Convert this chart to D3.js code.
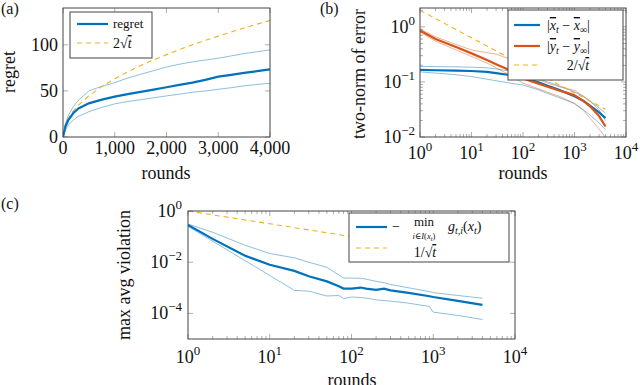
<!DOCTYPE html>
<html>
<head>
<meta charset="utf-8">
<script src="https://cdn.jsdelivr.net/npm/d3@7"></script>
<style>
  body { margin: 0; background: #fff; }
  text { font-family: "Liberation Serif", "DejaVu Serif", serif; fill: #111; }
</style>
</head>
<body>
<div id="chart"></div>
<script>
// ---- data ----
// (a) regret vs rounds
var roundsA = [0, 50, 100, 200, 300, 500, 750, 1000, 1250, 1500, 1750, 2000, 2250, 2500, 2750, 3000, 3250, 3500, 3750, 4000];
var regretMean = [0, 12, 18, 26, 31, 36.5, 40.5, 43.8, 46.5, 49, 51.5, 54, 56.5, 59, 62, 65.5, 67.5, 69.5, 71.5, 73.5];
var regretHigh = [0, 15, 23, 33, 40, 50, 55, 59, 64, 68, 72, 76, 79, 81.5, 83.5, 85.5, 88, 90.5, 92.5, 94.5];
var regretLow = [0, 8, 13, 18.5, 22.5, 27.5, 32, 36, 38.5, 40.5, 42.5, 44.6, 46.5, 48.5, 50, 51.8, 53.5, 55.5, 57, 58.3];
var bound2sqrt = [0, 14.1, 20, 28.3, 34.6, 44.7, 54.8, 63.2, 70.7, 77.5, 83.7, 89.4, 94.9, 100, 104.9, 109.5, 114, 118.3, 122.5, 126.5];

// (b) two-norm of error, log-log
var roundsB = [1, 2, 5, 10, 20, 30, 50, 70, 100, 200, 300, 500, 700, 1000, 1500, 2000, 3000, 4000];
var xErrMean = [0.165, 0.163, 0.16, 0.158, 0.152, 0.145, 0.135, 0.125, 0.118, 0.098, 0.085, 0.072, 0.063, 0.055, 0.045, 0.037, 0.028, 0.022];
var xErrHigh = [0.19, 0.19, 0.188, 0.185, 0.18, 0.172, 0.16, 0.15, 0.14, 0.115, 0.1, 0.085, 0.075, 0.066, 0.054, 0.045, 0.034, 0.027];
var xErrLow = [0.152, 0.145, 0.135, 0.125, 0.112, 0.105, 0.097, 0.092, 0.088, 0.072, 0.062, 0.052, 0.046, 0.041, 0.031, 0.025, 0.018, 0.0135];
var yErrMean = [0.86, 0.6, 0.43, 0.33, 0.25, 0.21, 0.17, 0.14, 0.115, 0.093, 0.082, 0.07, 0.064, 0.057, 0.045, 0.036, 0.024, 0.0155];
var yErrHigh = [0.92, 0.66, 0.48, 0.38, 0.34, 0.32, 0.27, 0.2, 0.15, 0.11, 0.095, 0.082, 0.076, 0.07, 0.055, 0.045, 0.031, 0.02];
var yErrLow = [0.8, 0.55, 0.38, 0.29, 0.22, 0.18, 0.14, 0.115, 0.095, 0.075, 0.065, 0.055, 0.048, 0.04, 0.03, 0.022, 0.014, 0.0098];
var bound2overSqrt = [2, 1.414, 0.894, 0.632, 0.447, 0.365, 0.283, 0.239, 0.2, 0.141, 0.115, 0.089, 0.076, 0.063, 0.052, 0.045, 0.037, 0.032];

// (c) max avg violation, log-log (values are log10)
var roundsC = [1, 2, 5, 10, 20, 30, 50, 70, 80, 100, 130, 150, 200, 250, 300, 500, 900, 1000, 2000, 4000];
var violMeanLog = [-0.55, -1.09, -1.75, -2.1, -2.34, -2.55, -2.75, -2.94, -3.03, -3.03, -2.99, -3.03, -3.08, -3.03, -3.1, -3.2, -3.33, -3.36, -3.51, -3.67];
var violHighLog = [-0.51, -0.83, -1.34, -1.66, -1.83, -2.0, -2.2, -2.5, -2.62, -2.62, -2.63, -2.66, -2.75, -2.8, -2.87, -3.0, -3.15, -3.19, -3.3, -3.41];
var violLowLog = [-0.6, -1.18, -1.94, -2.52, -3.1, -3.13, -3.32, -3.3, -3.42, -3.36, -3.38, -3.4, -3.47, -3.5, -3.52, -3.6, -3.73, -3.95, -4.08, -4.24];
var roundsC2 = [1, 2, 5, 10, 20, 50, 100];
var bound1overSqrt = [1, 0.707, 0.447, 0.316, 0.224, 0.141, 0.1];

var blue = "#0072bd", orange = "#d95319", yellow = "#edb120";
var tickSize = 18, labelSize = 18, legSize = 14;

var svg = d3.select("#chart").append("svg")
    .attr("width", 640)
    .attr("height", 385);

// draw inward ticks on all four sides of a box
function frame(g, x, y, xTicks, yTicks, xMinor, yMinor) {
    var x0 = x.range()[0], x1 = x.range()[1];
    var y0 = y.range()[0], y1 = y.range()[1];
    var tk = g.append("g").attr("stroke", "#999").attr("stroke-width", 0.8);
    xTicks.forEach(function (v) {
        tk.append("line").attr("x1", x(v)).attr("x2", x(v)).attr("y1", y0).attr("y2", y0 - 5);
        tk.append("line").attr("x1", x(v)).attr("x2", x(v)).attr("y1", y1).attr("y2", y1 + 5);
    });
    (xMinor || []).forEach(function (v) {
        tk.append("line").attr("x1", x(v)).attr("x2", x(v)).attr("y1", y0).attr("y2", y0 - 3);
        tk.append("line").attr("x1", x(v)).attr("x2", x(v)).attr("y1", y1).attr("y2", y1 + 3);
    });
    yTicks.forEach(function (v) {
        tk.append("line").attr("x1", x0).attr("x2", x0 + 5).attr("y1", y(v)).attr("y2", y(v));
        tk.append("line").attr("x1", x1).attr("x2", x1 - 5).attr("y1", y(v)).attr("y2", y(v));
    });
    (yMinor || []).forEach(function (v) {
        tk.append("line").attr("x1", x0).attr("x2", x0 + 3).attr("y1", y(v)).attr("y2", y(v));
        tk.append("line").attr("x1", x1).attr("x2", x1 - 3).attr("y1", y(v)).attr("y2", y(v));
    });
}

function border(g, x, y) {
    var x0 = x.range()[0], x1 = x.range()[1];
    var y0 = y.range()[0], y1 = y.range()[1];
    g.append("rect").attr("x", x0).attr("y", y1)
        .attr("width", x1 - x0).attr("height", y0 - y1)
        .attr("fill", "none").attr("stroke", "#444").attr("stroke-width", 1);
}

function minorTicks(lo, hi) {
    var out = [];
    for (var e = lo; e < hi; e++)
        for (var m = 2; m <= 9; m++) out.push(m * Math.pow(10, e));
    return out;
}

// "10^k" label
function powLabel(g, px, py, k, anchor) {
    var t = g.append("text").attr("x", px).attr("y", py)
        .attr("font-size", tickSize).attr("text-anchor", anchor);
    t.append("tspan").text("10");
    t.append("tspan").attr("font-size", 13).attr("dy", -8)
        .text(k < 0 ? "\u2212" + (-k) : k);
}

function drawLine(g, xs, ys, x, y, color, w, opacity, dash) {
    var line = d3.line()
        .x(function (d) { return x(d[0]); })
        .y(function (d) { return y(d[1]); });
    g.append("path")
        .datum(d3.zip(xs, ys))
        .attr("d", line)
        .attr("fill", "none")
        .attr("stroke", color)
        .attr("stroke-width", w)
        .attr("stroke-opacity", opacity)
        .attr("stroke-dasharray", dash || null);
}

function legendLine(g, x1, x2, y, color, dashed) {
    g.append("line").attr("x1", x1).attr("x2", x2).attr("y1", y).attr("y2", y)
        .attr("stroke", color)
        .attr("stroke-width", dashed ? 1.1 : 2.2)
        .attr("stroke-dasharray", dashed ? "5,4" : null);
}

// radical with t under it
function sqrtT(t) {
    t.append("tspan").text("\u221A");
    t.append("tspan").attr("font-style", "italic").attr("text-decoration", "overline").text("t");
}

// ============ (a) ============
var xa = d3.scaleLinear().domain([0, 4000]).range([63, 270]);
var ya = d3.scaleLinear().domain([0, 140]).range([137, 8]);
var ga = svg.append("g");
frame(ga, xa, ya, [0, 1000, 2000, 3000, 4000], [0, 50, 100]);
svg.append("clipPath").attr("id", "clipA").append("rect")
    .attr("x", 63).attr("y", 8).attr("width", 207).attr("height", 129);
var pa = ga.append("g").attr("clip-path", "url(#clipA)");
drawLine(pa, roundsA, regretHigh, xa, ya, blue, 0.9, 0.5);
drawLine(pa, roundsA, regretLow, xa, ya, blue, 0.9, 0.5);
drawLine(pa, roundsA, bound2sqrt, xa, ya, yellow, 1.1, 1, "5,4");
drawLine(pa, roundsA, regretMean, xa, ya, blue, 2.2, 1);
border(ga, xa, ya);
[0, 1000, 2000, 3000, 4000].forEach(function (v) {
    ga.append("text").attr("x", xa(v)).attr("y", 154).attr("font-size", tickSize)
        .attr("text-anchor", "middle").text(d3.format(",")(v));
});
[0, 50, 100].forEach(function (v) {
    ga.append("text").attr("x", 58).attr("y", ya(v) + 6).attr("font-size", tickSize)
        .attr("text-anchor", "end").text(v);
});
ga.append("text").attr("x", 166).attr("y", 179).attr("font-size", labelSize)
    .attr("text-anchor", "middle").text("rounds");
ga.append("text").attr("transform", "translate(15,72) rotate(-90)")
    .attr("font-size", labelSize).attr("text-anchor", "middle").text("regret");
ga.append("text").attr("x", 1).attr("y", 14).attr("font-size", 16).text("(a)");
// legend
ga.append("rect").attr("x", 70).attr("y", 12).attr("width", 82).attr("height", 46)
    .attr("fill", "#fff").attr("stroke", "#444").attr("stroke-width", 1);
legendLine(ga, 77, 108, 24, blue, false);
legendLine(ga, 77, 108, 43, yellow, true);
ga.append("text").attr("x", 113).attr("y", 28).attr("font-size", 13).text("regret");
var la = ga.append("text").attr("x", 113).attr("y", 48).attr("font-size", legSize);
la.append("tspan").text("2");
sqrtT(la);

// ============ (b) ============
var xb = d3.scaleLog().domain([1, 1e4]).range([420, 626]);
var yb = d3.scaleLog().domain([0.01, 2.2]).range([137, 8]);
var gb = svg.append("g");
frame(gb, xb, yb, [1, 10, 100, 1000, 1e4], [0.01, 0.1, 1], minorTicks(0, 4),
    minorTicks(-2, 1).filter(function (v) { return v < 2.2; }));
svg.append("clipPath").attr("id", "clipB").append("rect")
    .attr("x", 420).attr("y", 8).attr("width", 206).attr("height", 129);
var pb = gb.append("g").attr("clip-path", "url(#clipB)");
drawLine(pb, roundsB, xErrHigh, xb, yb, blue, 0.9, 0.5);
drawLine(pb, roundsB, xErrLow, xb, yb, blue, 0.9, 0.5);
drawLine(pb, roundsB, yErrHigh, xb, yb, orange, 0.9, 0.5);
drawLine(pb, roundsB, yErrLow, xb, yb, orange, 0.9, 0.5);
drawLine(pb, roundsB, bound2overSqrt, xb, yb, yellow, 1.1, 1, "5,4");
drawLine(pb, roundsB, xErrMean, xb, yb, blue, 2.2, 1);
drawLine(pb, roundsB, yErrMean, xb, yb, orange, 2.2, 1);
border(gb, xb, yb);
[0, 1, 2, 3, 4].forEach(function (k) {
    powLabel(gb, xb(Math.pow(10, k)), 159, k, "middle");
});
[-2, -1, 0].forEach(function (k) {
    powLabel(gb, 415, yb(Math.pow(10, k)) + 6, k, "end");
});
gb.append("text").attr("x", 523).attr("y", 179).attr("font-size", labelSize)
    .attr("text-anchor", "middle").text("rounds");
gb.append("text").attr("transform", "translate(365,74) rotate(-90)")
    .attr("font-size", labelSize).attr("text-anchor", "middle").text("two-norm of error");
gb.append("text").attr("x", 320).attr("y", 14).attr("font-size", 16).text("(b)");
// legend
gb.append("rect").attr("x", 508).attr("y", 10).attr("width", 115).attr("height", 70)
    .attr("fill", "#fff").attr("stroke", "#444").attr("stroke-width", 1);
legendLine(gb, 514, 540, 25, blue, false);
legendLine(gb, 514, 540, 46, orange, false);
legendLine(gb, 514, 540, 65, yellow, true);
function barLabel(g, px, py, v) {
    var t = g.append("text").attr("x", px).attr("y", py).attr("font-size", legSize);
    t.append("tspan").text("|");
    t.append("tspan").attr("font-style", "italic").attr("text-decoration", "overline").text(v);
    t.append("tspan").attr("font-style", "italic").attr("font-size", 10).attr("dy", 3).text("t");
    t.append("tspan").attr("dy", -3).text(" \u2212 ");
    t.append("tspan").attr("font-style", "italic").attr("text-decoration", "overline").text(v);
    t.append("tspan").attr("font-size", 10).attr("dy", 3).text("\u221E");
    t.append("tspan").attr("dy", -3).text("|");
}
barLabel(gb, 547, 30, "x");
barLabel(gb, 547, 51, "y");
var lb = gb.append("text").attr("x", 578).attr("y", 70).attr("font-size", legSize).attr("text-anchor", "middle");
lb.append("tspan").text("2/");
sqrtT(lb);

// ============ (c) ============
var xc = d3.scaleLog().domain([1, 1e4]).range([188, 515]);
var yc = d3.scaleLinear().domain([-5, 0]).range([339, 211]); // log10 of violation
var gc = svg.append("g");
frame(gc, xc, yc, [1, 10, 100, 1000, 1e4], [-4, -2, 0], minorTicks(0, 4), []);
svg.append("clipPath").attr("id", "clipC").append("rect")
    .attr("x", 188).attr("y", 211).attr("width", 327).attr("height", 128);
var pc = gc.append("g").attr("clip-path", "url(#clipC)");
drawLine(pc, roundsC, violHighLog, xc, yc, blue, 0.9, 0.5);
drawLine(pc, roundsC, violLowLog, xc, yc, blue, 0.9, 0.5);
drawLine(pc, roundsC2, bound1overSqrt.map(function (v) { return Math.log10(v); }), xc, yc, yellow, 1.1, 1, "5,4");
drawLine(pc, roundsC, violMeanLog, xc, yc, blue, 2.2, 1);
border(gc, xc, yc);
[0, 1, 2, 3, 4].forEach(function (k) {
    powLabel(gc, xc(Math.pow(10, k)), 363, k, "middle");
});
[-4, -2, 0].forEach(function (k) {
    powLabel(gc, 182, yc(k) + 6, k, "end");
});
gc.append("text").attr("x", 352).attr("y", 386).attr("font-size", labelSize)
    .attr("text-anchor", "middle").text("rounds");
gc.append("text").attr("transform", "translate(130,275) rotate(-90)")
    .attr("font-size", labelSize).attr("text-anchor", "middle").text("max avg violation");
gc.append("text").attr("x", 1).attr("y", 209).attr("font-size", 16).text("(c)");
// legend
gc.append("rect").attr("x", 349).attr("y", 213).attr("width", 160).attr("height", 49)
    .attr("fill", "#fff").attr("stroke", "#444").attr("stroke-width", 1);
legendLine(gc, 356, 387, 227, blue, false);
legendLine(gc, 356, 387, 248, yellow, true);
gc.append("text").attr("x", 392).attr("y", 231).attr("font-size", legSize).text("\u2212");
gc.append("text").attr("x", 424).attr("y", 226).attr("font-size", 13)
    .attr("text-anchor", "middle").text("min");
var sub = gc.append("text").attr("x", 424).attr("y", 239).attr("font-size", 8.5)
    .attr("text-anchor", "middle").attr("font-style", "italic");
sub.append("tspan").text("i");
sub.append("tspan").attr("font-style", "normal").text("\u2208");
sub.append("tspan").text("I");
sub.append("tspan").attr("font-style", "normal").text("(");
sub.append("tspan").text("x");
sub.append("tspan").attr("font-size", 6.5).attr("dy", 1.5).text("t");
sub.append("tspan").attr("font-style", "normal").attr("dy", -1.5).text(")");
var gt = gc.append("text").attr("x", 448).attr("y", 231).attr("font-size", legSize);
gt.append("tspan").attr("font-style", "italic").text("g");
gt.append("tspan").attr("font-style", "italic").attr("font-size", 10).attr("dy", 3).text("t,i");
gt.append("tspan").attr("dy", -3).text("(");
gt.append("tspan").attr("font-style", "italic").text("x");
gt.append("tspan").attr("font-style", "italic").attr("font-size", 10).attr("dy", 3).text("t");
gt.append("tspan").attr("dy", -3).text(")");
var lc = gc.append("text").attr("x", 425).attr("y", 257).attr("font-size", legSize).attr("text-anchor", "middle");
lc.append("tspan").text("1/");
sqrtT(lc);
</script>
</body>
</html>
